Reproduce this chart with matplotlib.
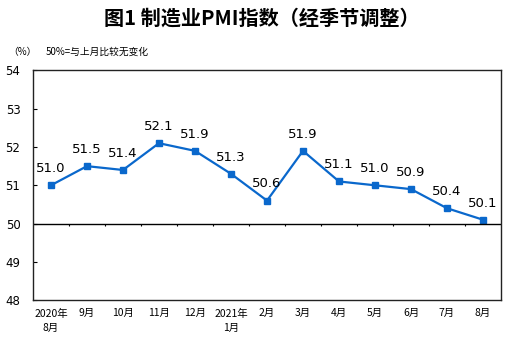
import matplotlib
matplotlib.use("Agg")
import matplotlib.pyplot as plt

plt.rcParams['font.family'] = ['Noto Sans CJK SC', 'DejaVu Sans']

# datos del grafico
meses = ["2020年\n8月", "9月", "10月", "11月", "12月", "2021年\n1月", "2月",
         "3月", "4月", "5月", "6月", "7月", "8月"]
pmi = [51.0, 51.5, 51.4, 52.1, 51.9, 51.3, 50.6, 51.9, 51.1, 51.0, 50.9, 50.4, 50.1]
yticks = [48, 49, 50, 51, 52, 53, 54]

fig = plt.figure(figsize=(5.23, 3.56), dpi=100)
ax = fig.add_axes([0.063, 0.157, 0.895, 0.645])

x = list(range(len(pmi)))
azul = "#0a68cc"
ax.plot(x, pmi, color=azul, linewidth=1.6, marker="s", markersize=3.8)

for xi, v in zip(x, pmi):
    ax.annotate("%.1f" % v, (xi, v), xytext=(0, 12), textcoords="offset points",
                ha="center", va="center", fontsize=9.5, family="DejaVu Sans")

# linea de 50 con marcas entre categorias
ax.axhline(50, color="black", linewidth=1)
bordes = [i + 0.5 for i in range(len(pmi) - 1)]
ax.vlines(bordes, 49.93, 50, color="black", linewidth=0.8)

ax.set_xlim(-0.5, len(pmi) - 0.5)
ax.set_ylim(48, 54)
ax.set_yticks(yticks)
ax.set_yticklabels([str(t) for t in yticks], fontsize=8.5, family="DejaVu Sans")
ax.tick_params(axis="y", direction="in", length=3, pad=9)
ax.set_xticks(x)
ax.set_xticklabels(meses, fontsize=7.5, linespacing=1.5)
ax.tick_params(axis="x", length=0, pad=6)

for s in ax.spines.values():
    s.set_color("#222222")
    s.set_linewidth(1)

fig.text(0.5, 0.948, "图1 制造业PMI指数（经季节调整）", ha="center", va="center",
         fontsize=14.5, fontweight="bold")
fig.text(0.015, 0.855, "（%）", fontsize=7, va="center")
fig.text(0.087, 0.855, "50%=与上月比较无变化", fontsize=7, va="center")

fig.savefig("out.png", dpi=100)
